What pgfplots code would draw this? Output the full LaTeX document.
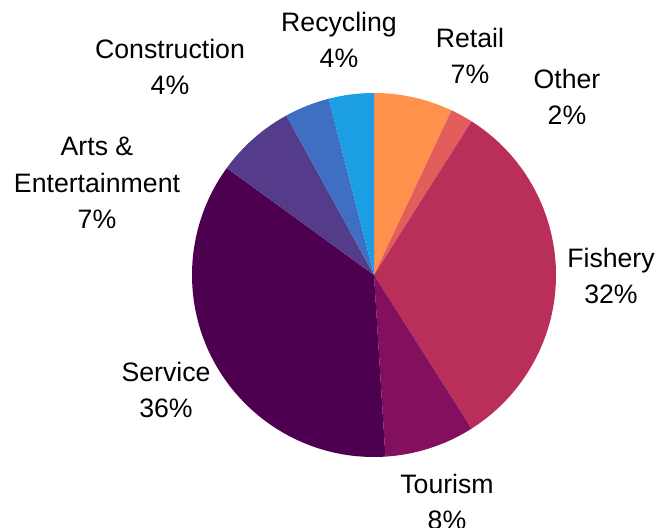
\documentclass[border=0pt]{standalone}
\usepackage{pgfplots}
\pgfplotsset{compat=1.18}
\usepackage{fontspec}
\setmainfont{Liberation Sans}

\definecolor{cRetail}{HTML}{FF914D}
\definecolor{cOther}{HTML}{E35D5A}
\definecolor{cFishery}{HTML}{B92F5A}
\definecolor{cTourism}{HTML}{83105F}
\definecolor{cService}{HTML}{4E0050}
\definecolor{cArts}{HTML}{553C8B}
\definecolor{cConstr}{HTML}{3F6FC2}
\definecolor{cRecyc}{HTML}{1C9EE5}

% slice: colour, cumulative share before it (%), share (%)
\newcommand\slice[3]{%
  \fill[#1] (axis cs:374,253) -- ++({90-3.6*#2}:136.5pt)
    arc[start angle={90-3.6*#2}, end angle={90-3.6*(#2+#3)}, radius=136.5pt] -- cycle;}

\begin{document}
\begin{tikzpicture}
\begin{axis}[
    name=pie,
    x=0.75pt, y=0.75pt,
    xmin=0, xmax=672, ymin=0, ymax=528,
    hide axis, clip=false,
    nodes={font=\fontsize{20}{27.5}\selectfont, align=center, text=black},
  ]
  \slice{cRetail}{0}{7}
  \slice{cOther}{7}{2}
  \slice{cFishery}{9}{32}
  \slice{cTourism}{41}{8}
  \slice{cService}{49}{36}
  \slice{cArts}{85}{7}
  \slice{cConstr}{92}{4}
  \slice{cRecyc}{96}{4}

  \node at (axis cs:339,488) {Recycling\\4\%};
  \node at (axis cs:470,472) {Retail\\7\%};
  \node at (axis cs:567,431) {Other\\2\%};
  \node at (axis cs:611,252) {Fishery\\32\%};
  \node at (axis cs:447,26) {Tourism\\8\%};
  \node at (axis cs:166,138) {Service\\36\%};
  \node at (axis cs:97,345) {Arts \&\\Entertainment\\7\%};
  \node at (axis cs:170,461) {Construction\\4\%};
\end{axis}
\pgfresetboundingbox
\useasboundingbox (pie.south west) rectangle (pie.north east);
\end{tikzpicture}
\end{document}
